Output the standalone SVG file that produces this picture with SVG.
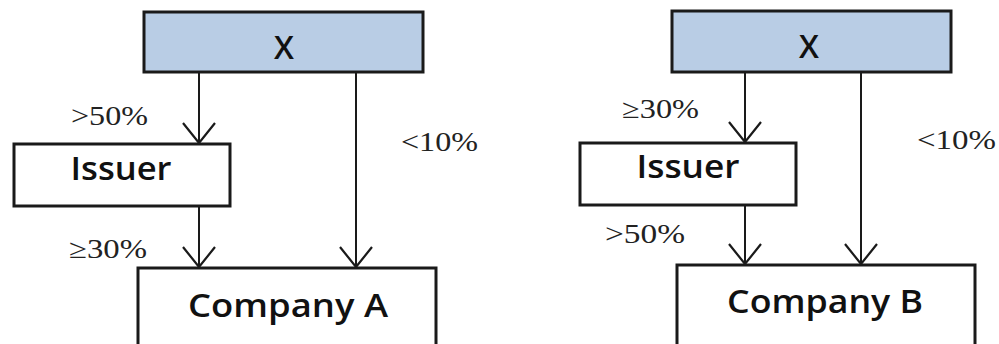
<svg xmlns="http://www.w3.org/2000/svg" width="999" height="344" viewBox="0 0 999 344">
<defs>
<style>
.box{fill:#ffffff;stroke:#1a1a1a;stroke-width:3}
.top{fill:#b9cde5;stroke:#1a1a1a;stroke-width:3}
.ln{stroke:#1a1a1a;stroke-width:2;fill:none}
.nt{font-family:"Open Sans","Liberation Sans",sans-serif;font-size:32px;font-weight:600;fill:#111111;text-anchor:middle}
.lb{font-family:"Liberation Serif","Times New Roman",serif;font-size:27px;fill:#222222}
</style>
<marker id="ah" viewBox="0 0 22 34" refX="21" refY="17" markerWidth="22" markerHeight="34" markerUnits="userSpaceOnUse" orient="auto">
<path d="M1,1 L21,17 L1,33" fill="none" stroke="#1a1a1a" stroke-width="2.2"/>
</marker>
</defs>
<rect width="999" height="344" fill="#ffffff"/>
<g id="connectors">
<line class="ln" x1="199" y1="72" x2="199" y2="143" marker-end="url(#ah)"/>
<line class="ln" x1="356" y1="72" x2="356" y2="267" marker-end="url(#ah)"/>
<line class="ln" x1="199" y1="206" x2="199" y2="267" marker-end="url(#ah)"/>
<line class="ln" x1="745" y1="72" x2="745" y2="142" marker-end="url(#ah)"/>
<line class="ln" x1="861" y1="72" x2="861" y2="264" marker-end="url(#ah)"/>
<line class="ln" x1="745" y1="205" x2="745" y2="264" marker-end="url(#ah)"/>
</g>
<g id="labels">
<text class="lb" x="71" y="125" textLength="77" lengthAdjust="spacingAndGlyphs">&gt;50%</text>
<text class="lb" x="401" y="151" textLength="77" lengthAdjust="spacingAndGlyphs">&lt;10%</text>
<text class="lb" x="69" y="258" textLength="78" lengthAdjust="spacingAndGlyphs">≥30%</text>
<text class="lb" x="622" y="118" textLength="77" lengthAdjust="spacingAndGlyphs">≥30%</text>
<text class="lb" x="917" y="149" textLength="79" lengthAdjust="spacingAndGlyphs">&lt;10%</text>
<text class="lb" x="605" y="243" textLength="80" lengthAdjust="spacingAndGlyphs">&gt;50%</text>
</g>
<g id="xA">
<rect class="top" x="144" y="12" width="279" height="60"/>
<text class="nt" x="284" y="59" font-size="33">X</text>
</g>
<g id="issuerA">
<rect class="box" x="14" y="144" width="216" height="62"/>
<text class="nt" x="121" y="180" textLength="101" lengthAdjust="spacingAndGlyphs">Issuer</text>
</g>
<g id="companyA">
<rect class="box" x="138" y="268" width="298" height="90"/>
<text class="nt" x="288" y="317" textLength="200" lengthAdjust="spacingAndGlyphs">Company A</text>
</g>
<g id="xB">
<rect class="top" x="672" y="11" width="279" height="61"/>
<text class="nt" x="809" y="58" font-size="33">X</text>
</g>
<g id="issuerB">
<rect class="box" x="580" y="143" width="216" height="62"/>
<text class="nt" x="688" y="178" textLength="103" lengthAdjust="spacingAndGlyphs">Issuer</text>
</g>
<g id="companyB">
<rect class="box" x="677" y="265" width="298" height="90"/>
<text class="nt" x="825" y="313" textLength="196" lengthAdjust="spacingAndGlyphs">Company B</text>
</g>
</svg>
